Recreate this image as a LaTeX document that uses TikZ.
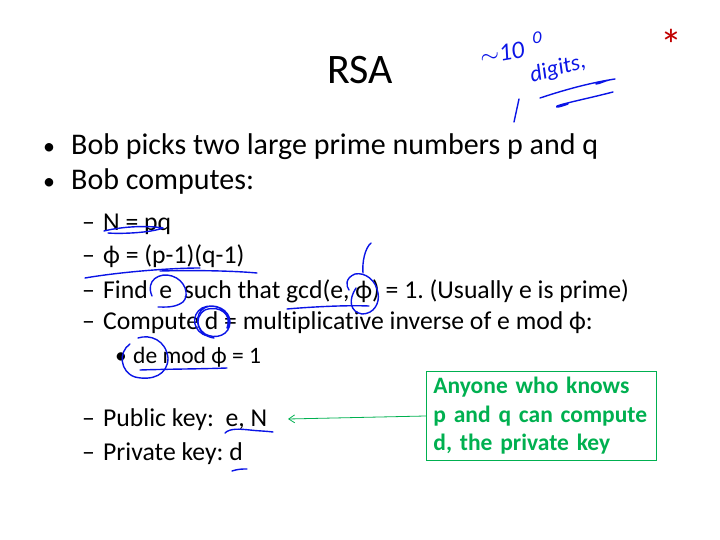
\documentclass[tikz,border=0pt]{standalone}
\usepackage{fontspec}
\setmainfont{Carlito}[Ligatures=NoCommon]
\usetikzlibrary{arrows.meta}
\definecolor{offgreen}{RGB}{0,176,80}
\definecolor{pen}{RGB}{10,20,230}
\definecolor{starred}{RGB}{192,0,0}
\frenchspacing

\begin{document}
\begin{tikzpicture}[x=1pt,y=-1pt,
  txt/.style={anchor=base west,inner sep=0pt},
  lvlone/.style={txt,font=\fontsize{30}{34}\selectfont},
  lvltwo/.style={txt,font=\fontsize{25.7}{30}\selectfont},
  lvlthree/.style={txt,font=\fontsize{23.5}{26}\selectfont},
  dot/.style={txt,font=\fontsize{24}{26}\selectfont},
  ink/.style={pen,line width=1.4pt,line cap=round,line join=round},
  scrawl/.style={inner sep=0pt,text=pen,font=\fontsize{25}{28}\selectfont\itshape},
  note/.style={draw=offgreen,line width=0.8pt,text=offgreen,
    font=\fontsize{23.5}{28.5}\selectfont\bfseries,inner xsep=7pt,inner ysep=6pt,
    anchor=north west,text width=216pt}]
\useasboundingbox (0,0) rectangle (720,540);

% Title
\node (title) [inner sep=0pt,font=\fontsize{42}{46}\selectfont] at (360,70) {RSA};
% Star
\node (star) [inner sep=0pt,text=starred,font=\fontsize{44}{44}\selectfont] at (671,45) {*};

% Bullets, level one
\node (bulA) [dot] at (43,155) {•};
\node (bobpicks) [lvlone] at (71,155) {Bob picks two large prime numbers p and q};
\node (bulB) [dot] at (43,190) {•};
\node (bobcomp) [lvlone] at (71,190) {Bob computes:};

% Level two
\node (dashA) [lvltwo] at (82,230) {–};
\node (nline) [lvltwo] at (103,230) {N = pq};
\node (dashB) [lvltwo] at (82,263) {–};
\node (philine) [lvltwo] at (103,263) {ϕ = (p-1)(q-1)};
\node (dashC) [lvltwo] at (82,298) {–};
\node (findline) [lvltwo] at (103,298) {Find\ \ e\ \ such that gcd(e, ϕ) = 1. (Usually e is prime)};
\node (dashD) [lvltwo] at (82,329) {–};
\node (compline) [lvltwo] at (103,329) {Compute d = multiplicative inverse of e mod ϕ:};

% Level three
\node (bulC) [lvlthree] at (115,363) {•};
\node (modline) [lvlthree] at (133,363) {de mod ϕ = 1};

% Keys
\node (dashE) [lvltwo] at (82,426) {–};
\node (pubkey) [lvltwo] at (103,426) {Public key:\ \ e, N};
\node (dashF) [lvltwo] at (82,460) {–};
\node (privkey) [lvltwo] at (103,460) {Private key: d};

% Green note
\node (anyone) [note] at (426,371) {Anyone who knows\\p and q can compute\\d, the private key};
\coordinate (tip) at (288,419);
\draw [offgreen,line width=0.8pt,-{Straight Barb[length=6pt,width=8pt]}] (anyone.west) -- (tip);

% Pen notes
\node (approx) [scrawl,rotate=10] at (502,53) {$\sim$10};
\node (expo) [scrawl,font=\fontsize{18}{20}\selectfont\itshape] at (537,38) {0};
\node (digits) [scrawl,rotate=15,font=\fontsize{23}{26}\selectfont\itshape] at (558,69) {digits,};
\draw [ink] (540,98) .. controls (570,88) and (595,82) .. (615,79) .. controls (605,80) and (600,84) .. (596,84);
\draw [ink] (613,92) .. controls (590,98) and (565,103) .. (557,106) .. controls (555,108) and (560,107) .. (568,104);
\draw [ink] (519,99) -- (514,122);
\draw [ink] (104,231) .. controls (120,227) and (145,225) .. (163,228) .. controls (150,233) and (120,234) .. (108,233);
\draw [ink] (85,278) .. controls (120,272) and (170,268) .. (200,268);
\draw [ink] (160,271) .. controls (200,270) and (235,271) .. (257,273);
\draw [ink] (152,296) .. controls (145,280) and (160,272) .. (172,276) .. controls (185,280) and (190,295) .. (183,302) .. controls (175,308) and (165,307) .. (158,307);
\draw [ink] (287,309) .. controls (310,307) and (345,305) .. (369,306);
\draw [ink] (356,288) .. controls (348,300) and (350,312) .. (362,314) .. controls (374,314) and (380,303) .. (378,293) .. controls (376,280) and (365,272) .. (355,274) .. controls (345,278) and (346,286) .. (349,290);
\draw [ink] (363,273) .. controls (362,262) and (365,248) .. (371,243);
\draw [ink] (208,336) .. controls (193,333) and (190,315) .. (202,308) .. controls (215,302) and (230,310) .. (230,322) .. controls (230,335) and (216,340) .. (205,334) .. controls (193,326) and (196,308) .. (210,306) .. controls (225,306) and (231,318) .. (227,328);
\draw [ink] (214,338) .. controls (198,336) and (192,318) .. (205,310) .. controls (220,304) and (233,316) .. (228,328);
\draw [ink] (130,344) .. controls (118,352) and (120,372) .. (135,377) .. controls (152,381) and (168,375) .. (168,358) .. controls (166,340) and (150,334) .. (138,338);
\draw [ink] (140,370) .. controls (170,369) and (200,369) .. (227,368);
\draw [ink] (225,433) .. controls (230,428) and (240,429) .. (250,430) .. controls (258,431) and (266,431) .. (273,432);
\draw [ink] (232,471) .. controls (238,469) and (242,469) .. (247,469);
\end{tikzpicture}
\end{document}
